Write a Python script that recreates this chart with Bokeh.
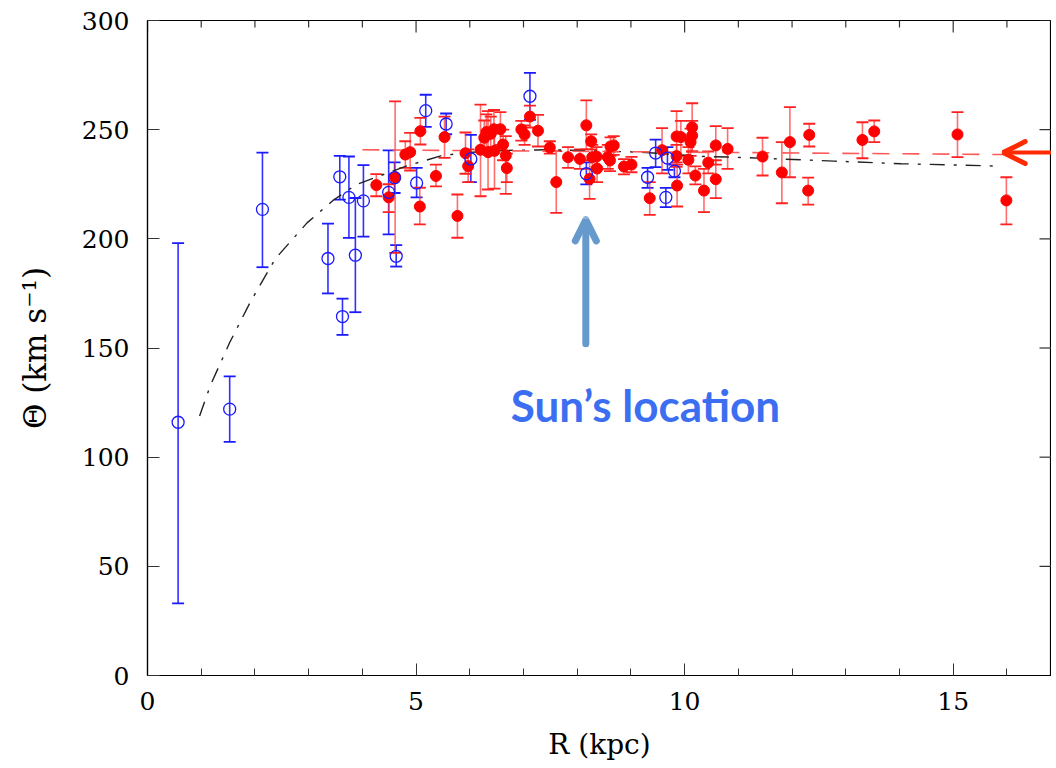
from bokeh.plotting import figure
from bokeh.models import (ColumnDataSource, Whisker, TeeHead, Arrow, OpenHead, Label,
                          Range1d, LinearAxis, SingleIntervalTicker)
from bokeh.embed import file_html
from bokeh.resources import INLINE

# ---- data ----
blue_R = [0.57, 1.53, 2.14, 3.36, 3.58, 3.63, 3.75, 3.87, 4.02, 4.49, 4.60, 4.63, 5.01,
          5.18, 5.56, 6.02, 7.12, 8.17, 9.31, 9.46, 9.65, 9.68, 9.81]
blue_theta = [116, 122, 213.5, 191, 228.4, 164.4, 219, 192.5, 217.4, 221.3, 228, 192, 225.6,
              258.7, 252.6, 236.6, 265.3, 229.8, 228.2, 239.3, 219, 237, 231]
blue_lo = [33, 107, 187, 175, 218, 156, 200.4, 166.4, 201, 202, 221, 187.3, 219,
           251.3, 247.9, 226, 254.5, 224.9, 223.3, 232.8, 214.5, 231.6, 228.2]
blue_hi = [198, 137, 239.5, 207, 238, 172.6, 237.7, 218.7, 233.8, 240.5, 235, 197.1, 232.5,
           266, 257.4, 247.6, 276, 235, 232.5, 245.4, 223.3, 242, 234]

red_R = [4.26, 4.49, 4.61, 4.80, 4.89, 5.08, 5.07, 5.37, 5.53, 5.77, 5.92, 5.97, 6.20, 6.27,
         6.31, 6.34, 6.39, 6.45, 6.46, 6.57, 6.62, 6.67, 6.69, 6.96, 7.02, 7.12, 7.27, 7.49,
         7.61, 7.83, 8.05, 8.17, 8.26, 8.23, 8.28, 8.36, 8.37, 8.57, 8.62, 8.68, 8.61, 8.87,
         9.01, 9.35, 9.58, 9.85, 9.93, 9.85, 9.86, 10.14, 10.14, 10.11, 10.07, 10.20, 10.36,
         10.44, 10.58, 10.58, 10.80, 11.45, 11.81, 11.96, 12.30, 12.32, 13.31, 13.53, 15.08,
         15.99]
red_theta = [224.6, 219.0, 228.2, 238.6, 239.7, 249.3, 214.8, 228.8, 246.6, 210.5, 239.2, 233.3,
             240.8, 246.3, 248.9, 239.7, 248.1, 250.2, 240.3, 250.2, 243.2, 238.2, 232.4, 250.1,
             247.8, 256.0, 249.5, 241.8, 226.0, 237.4, 236.6, 252.0, 244.7, 227.5, 237.4, 237.7,
             232.2, 237.4, 242.3, 242.8, 235.9, 233.1, 234.0, 218.6, 240.6, 246.9, 246.6, 237.9,
             224.4, 251.1, 247.3, 244.3, 236.2, 229.0, 222.1, 234.9, 242.8, 227.3, 241.2, 237.7,
             230.4, 244.3, 222.1, 247.6, 245.3, 249.2, 247.8, 217.6]
red_lo = [219.5, 212.2, 193.6, 232.5, 231.3, 243.2, 206.6, 224.0, 237.1, 200.5, 229.8, 226.0,
          219.5, 239.0, 241.0, 222.6, 240.0, 242.0, 223.0, 243.0, 236.0, 220.6, 226.0, 245.0,
          243.0, 251.0, 242.3, 239.0, 211.9, 232.5, 232.0, 241.0, 241.0, 218.3, 232.0, 233.0,
          226.0, 232.0, 238.0, 238.5, 231.0, 229.5, 230.5, 211.0, 230.0, 235.0, 238.0, 233.0,
          214.8, 240.0, 240.0, 238.0, 230.0, 224.9, 212.2, 230.0, 234.0, 218.6, 232.0, 229.0,
          216.3, 228.2, 215.7, 242.3, 236.9, 244.3, 237.4, 206.6]
red_hi = [229.6, 225.0, 263.0, 244.7, 248.5, 255.4, 223.4, 234.0, 256.0, 220.3, 248.7, 241.0,
          261.5, 254.2, 257.0, 258.5, 256.0, 259.0, 250.0, 258.0, 250.0, 247.0, 239.0, 254.0,
          252.0, 261.0, 256.8, 244.7, 240.2, 242.0, 241.0, 263.4, 247.8, 236.0, 243.0, 242.0,
          238.0, 243.0, 246.5, 247.0, 240.0, 236.5, 237.5, 226.0, 250.7, 258.5, 254.0, 243.0,
          234.0, 262.1, 254.0, 250.5, 242.0, 233.2, 232.0, 240.0, 251.6, 236.0, 250.7, 246.3,
          244.3, 260.3, 228.0, 252.7, 253.4, 254.2, 258.0, 228.2]

curve_R = [0.97, 1.17, 1.53, 1.92, 2.38, 2.97, 3.47, 3.90, 4.84, 5.46, 5.92, 6.70, 7.50,
           8.37, 9.18, 10.36, 10.92, 12.78, 14.03, 15.88]
curve_theta = [118.9, 132.8, 152.5, 171.3, 190.9, 207.3, 217.9, 225.0, 233.5, 238.0, 239.5,
               240.5, 240.8, 240.2, 239.7, 237.7, 237.4, 235.6, 234.4, 233.3]

flat_R = [4.0, 15.95]
flat_theta = [240.8, 238.6]

sun_R = 8.16
x_label = "R (kpc)"
y_label = "Θ (km s⁻¹)"

# ---- figure ----
FW, FH = 904, 655
XMAX, YMAX = 16.83, 300
p = figure(frame_width=FW, frame_height=FH, output_backend="svg", toolbar_location=None,
           x_range=Range1d(0, XMAX), y_range=Range1d(0, YMAX),
           min_border_left=147, min_border_top=20, min_border_right=0, min_border_bottom=85,
           x_axis_type=None, y_axis_type=None)
p.outline_line_color = "black"
p.outline_line_width = 1.2
p.grid.visible = False
p.background_fill_color = "white"
p.border_fill_color = "white"

FONT = "DejaVu Serif"

def make_axis(kind):
    if kind == "x":
        t = SingleIntervalTicker(interval=5, num_minor_ticks=5)
    else:
        t = SingleIntervalTicker(interval=50, num_minor_ticks=5)
    ax = LinearAxis(ticker=t)
    ax.major_tick_in = 12
    ax.major_tick_out = 0
    ax.minor_tick_in = 7
    ax.minor_tick_out = 0
    ax.axis_line_color = "black"
    ax.axis_line_width = 1.2
    ax.major_tick_line_color = "#333333"
    ax.minor_tick_line_color = "#333333" if kind == "x" else None
    ax.major_label_text_font = FONT
    ax.major_label_text_color = "black"
    ax.major_label_text_font_size = "25px"
    ax.major_label_standoff = 18 if kind == "y" else 16
    ax.axis_label_text_font = FONT
    ax.axis_label_text_font_style = "normal"
    ax.axis_label_text_color = "black"
    return ax

xb = make_axis("x")
xb.axis_label = x_label
xb.axis_label_text_font_size = "28px"
xb.axis_label_standoff = 15
p.add_layout(xb, "below")
yl = make_axis("y")
yl.axis_label = y_label
yl.axis_label_text_font_size = "31px"
yl.axis_label_standoff = 26
p.add_layout(yl, "left")

# top and right frame ticks (inward, no labels)
px_y = FH / YMAX
px_x = FW / XMAX
top_x = list(range(0, int(XMAX) + 1))
top_len = [12 / px_y if v % 5 == 0 else 7 / px_y for v in top_x]
p.segment(x0=top_x, y0=[YMAX] * len(top_x), x1=top_x, y1=[YMAX - l for l in top_len],
          line_color="#333333", line_width=1.2)
right_y = list(range(0, YMAX + 1, 50))
p.segment(x0=[XMAX] * len(right_y), y0=right_y, x1=[XMAX - 12 / px_x] * len(right_y), y1=right_y,
          line_color="#333333", line_width=1.2)

# ---- model curves ----
p.line(curve_R, curve_theta, line_color="#222222", line_width=1.4, line_dash="15 9 3 9")
p.line(flat_R, flat_theta, line_color="#ff5a5a", line_width=1.6, line_dash="17 13")

# ---- error bars ----
bsrc = ColumnDataSource(dict(R=blue_R, t=blue_theta, lo=blue_lo, hi=blue_hi))
rsrc = ColumnDataSource(dict(R=red_R, t=red_theta, lo=red_lo, hi=red_hi))

bw = Whisker(source=bsrc, base="R", lower="lo", upper="hi", dimension="height",
             line_color="#1a1aff", line_width=1.6, line_alpha=0.9,
             lower_head=TeeHead(size=12, line_color="#1a1aff", line_width=1.8),
             upper_head=TeeHead(size=12, line_color="#1a1aff", line_width=1.8))
rw = Whisker(source=rsrc, base="R", lower="lo", upper="hi", dimension="height",
             line_color="#ff3030", line_width=1.6, line_alpha=0.7,
             lower_head=TeeHead(size=12, line_color="#ff2020", line_width=1.8),
             upper_head=TeeHead(size=12, line_color="#ff2020", line_width=1.8))
p.add_layout(bw)
p.add_layout(rw)

p.scatter("R", "t", source=rsrc, size=11, fill_color="#ff0000", line_color="#ff0000")
p.scatter("R", "t", source=bsrc, size=12, fill_color=None, line_color="#1a1aff", line_width=1.3)

# ---- annotations ----
p.add_layout(Arrow(x_start=sun_R, y_start=151.9, x_end=sun_R, y_end=208.7,
                   line_color="#6699cc", line_width=7, line_cap="round",
                   end=OpenHead(size=21, line_color="#6699cc", line_width=7, line_cap="round")))
p.add_layout(Label(x=9.27, y=124.0, text="Sun’s location", text_align="center",
                   text_baseline="alphabetic", text_font="Lato", text_font_style="bold",
                   text_font_size="44px", text_color="#3b6ef0"))
p.add_layout(Arrow(x_start=XMAX, y_start=239.5, x_end=15.93, y_end=239.5,
                   line_color="#ff2a00", line_width=4, line_cap="round",
                   end=OpenHead(size=22, line_color="#ff2a00", line_width=5, line_cap="round")))

open("out.html", "w").write(file_html(p, INLINE))
